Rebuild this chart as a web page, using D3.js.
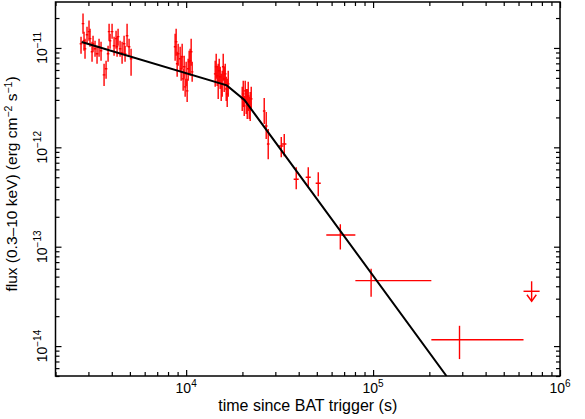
<!DOCTYPE html>
<html><head><meta charset="utf-8">
<script src="https://cdn.jsdelivr.net/npm/d3@7"></script>
<style>body{margin:0;background:#fff}svg{display:block}text{font-family:"Liberation Sans",Arial,Helvetica,sans-serif}</style>
</head><body><svg id="c" width="585" height="419"></svg>
<script>
// Windowed-timing style points: [time (s), half bin (s), flux, flux low, flux high]
const wtPoints = [
[2739,45,1.104e-11,8.74e-12,1.299e-11],
[2807,45,1.757e-11,1.392e-11,2.217e-11],
[2842,45,1.183e-11,9.37e-12,1.459e-11],
[2877,45,9.82e-12,7.78e-12,1.240e-11],
[2949,45,1.360e-11,1.104e-11,1.638e-11],
[3022,50,1.459e-11,1.183e-11,1.884e-11],
[3060,50,1.240e-11,1.029e-11,1.564e-11],
[3137,50,9.16e-12,7.26e-12,1.156e-11],
[3176,50,1.104e-11,9.16e-12,1.329e-11],
[3255,50,9.82e-12,8.15e-12,1.183e-11],
[3336,55,8.74e-12,6.93e-12,1.053e-11],
[3420,55,1.029e-11,8.15e-12,1.240e-11],
[3505,55,9.37e-12,7.43e-12,1.156e-11],
[3638,60,5.36e-12,4.15e-12,6.93e-12],
[3729,60,6.17e-12,4.89e-12,7.43e-12],
[3822,60,8.74e-12,7.26e-12,1.053e-11],
[3870,60,1.459e-11,1.183e-11,1.757e-11],
[3917,60,1.183e-11,9.82e-12,1.392e-11],
[4015,65,1.459e-11,1.240e-11,1.757e-11],
[4115,65,1.053e-11,8.35e-12,1.299e-11],
[4217,65,1.240e-11,9.82e-12,1.493e-11],
[4270,65,1.029e-11,8.15e-12,1.299e-11],
[4323,70,1.299e-11,1.053e-11,1.564e-11],
[4431,70,9.82e-12,8.15e-12,1.183e-11],
[4542,70,8.95e-12,6.93e-12,1.156e-11],
[4655,75,1.104e-11,8.74e-12,1.329e-11],
[4712,75,8.74e-12,7.26e-12,1.053e-11],
[4830,75,1.329e-11,1.029e-11,1.757e-11],
[4950,80,1.029e-11,8.35e-12,1.240e-11],
[5074,80,7.78e-12,5.24e-12,9.82e-12],
[8730,140,1.029e-11,7.43e-12,1.392e-11],
[8840,140,1.156e-11,8.35e-12,1.564e-11],
[8950,140,6.93e-12,5.12e-12,9.16e-12],
[9060,145,8.74e-12,6.61e-12,1.104e-11],
[9286,145,7.78e-12,5.75e-12,1.029e-11],
[9402,150,6.17e-12,4.67e-12,8.35e-12],
[9520,150,8.15e-12,6.17e-12,1.104e-11],
[9636,155,4.89e-12,3.70e-12,6.17e-12],
[9757,155,6.46e-12,4.89e-12,8.35e-12],
[9877,155,4.06e-12,3.22e-12,4.89e-12],
[10000,160,5.49e-12,4.15e-12,7.26e-12],
[10123,160,3.70e-12,2.86e-12,4.89e-12],
[10250,165,6.17e-12,4.67e-12,7.78e-12],
[10376,165,7.26e-12,5.49e-12,9.37e-12],
[10505,170,7.43e-12,5.24e-12,9.82e-12],
[10636,170,9.16e-12,6.61e-12,1.240e-11],
[10768,170,5.75e-12,4.56e-12,7.26e-12],
[14300,230,5.49e-12,4.06e-12,7.43e-12],
[14478,230,6.46e-12,4.89e-12,8.74e-12],
[14659,235,5.24e-12,4.15e-12,6.61e-12],
[14840,235,4.67e-12,3.07e-12,6.93e-12],
[15025,240,5.89e-12,4.35e-12,7.78e-12],
[15210,240,5.12e-12,3.87e-12,6.46e-12],
[15400,245,4.06e-12,2.93e-12,5.49e-12],
[15590,250,4.35e-12,3.22e-12,5.89e-12],
[15785,250,6.46e-12,4.67e-12,8.74e-12],
[15980,255,4.89e-12,3.61e-12,6.46e-12],
[16180,260,5.49e-12,4.15e-12,6.93e-12],
[16380,260,3.87e-12,2.93e-12,5.12e-12],
[16580,265,3.45e-12,2.55e-12,4.89e-12],
[16790,270,4.35e-12,3.22e-12,5.89e-12],
[19950,320,3.07e-12,2.32e-12,4.06e-12],
[20200,320,3.45e-12,2.55e-12,4.67e-12],
[20450,330,2.61e-12,2.07e-12,3.29e-12],
[20700,330,3.70e-12,2.86e-12,4.67e-12],
[20960,335,2.86e-12,2.17e-12,3.87e-12],
[21220,340,2.73e-12,1.93e-12,3.87e-12],
[21480,345,3.29e-12,2.32e-12,4.56e-12],
[21750,350,2.43e-12,1.93e-12,3.22e-12],
[22010,350,2.55e-12,1.84e-12,3.61e-12],
[22290,355,3.07e-12,2.32e-12,4.06e-12],
[26160,420,2.32e-12,1.72e-12,3.14e-12],
[26810,430,1.64e-12,1.21e-12,2.27e-12],
[27480,440,1.08e-12,7.60e-13,1.53e-12],
[32270,900,1.03e-12,7.96e-13,1.27e-12],
[33480,900,1.08e-12,8.15e-13,1.36e-12],
[38800,1200,4.78e-13,3.78e-13,6.31e-13],
[45000,1400,5.00e-13,3.96e-13,6.31e-13],
[50900,1600,4.35e-13,3.22e-13,5.62e-13]
];
// Photon-counting style points: [time, time low, time high, flux, flux low, flux high]
const pcPoints = [
[66800,56200,80400,1.31e-13,9.4e-14,1.68e-13],
[97600,80400,205000,4.56e-14,3.14e-14,6.0e-14],
[290000,205000,638000,1.16e-14,7.4e-15,1.60e-14]
];
// Upper limits: [time, time low, time high, flux limit]
const upperLimits = [
[705000,638000,778000,3.56e-14]
];
// Broken power-law model nodes
const modelTime = [2760, 16500, 20500, 247000];
const modelFlux = [1.15e-11, 4.2e-12, 3.0e-12, 5.0e-15];
// Axis ticks
const xMajor = [1e4, 1e5, 1e6];
const xMajorExp = ["4", "5", "6"];
const yMajor = [1e-11, 1e-12, 1e-13, 1e-14];
const yMajorExp = ["\u221211", "\u221212", "\u221213", "\u221214"];
const xLabel = "time since BAT trigger (s)";

const L = 55.5, R = 560, T = 2, B = 376;
const svg = d3.select("#c");
const x = d3.scaleLog().domain([2000, 1e6]).range([L, R]);
const y = d3.scaleLog().domain([5e-15, 2.9e-11]).range([B, T]);

function minorsOf(dom){
  const out=[];
  const lo=Math.floor(Math.log10(dom[0])), hi=Math.ceil(Math.log10(dom[1]));
  for(let e=lo;e<=hi;e++) for(let k=2;k<=9;k++){const v=k*Math.pow(10,e); if(v>=dom[0]*0.9999&&v<=dom[1]*1.0001) out.push(v);}
  return out;
}
const xMinor = minorsOf(x.domain());
const yMinor = minorsOf(y.domain());

svg.append("defs").append("clipPath").attr("id","pc").append("rect")
  .attr("x",L).attr("y",T).attr("width",R-L).attr("height",B-T);

function addAxis(gen, tx, ty, vals, size){
  const g = svg.append("g").attr("transform",`translate(${tx},${ty})`)
    .call(gen.tickValues(vals).tickSize(-size).tickFormat(""));
  g.select(".domain").remove();
  g.selectAll(".tick line").attr("stroke","#000").attr("stroke-width",1.2);
  g.selectAll(".tick text").remove();
}
[[xMajor,6],[xMinor,4]].forEach(([v,s])=>{
  addAxis(d3.axisBottom(x),0,B,v,s);
  addAxis(d3.axisTop(x),0,T,v,s);
});
[[yMajor,6],[yMinor,4]].forEach(([v,s])=>{
  addAxis(d3.axisLeft(y),L,0,v,s);
  addAxis(d3.axisRight(y),R,0,v,s);
});

// Data
const red = "#ff0000";
const dg = svg.append("g").attr("clip-path","url(#pc)").attr("stroke",red).attr("stroke-width",1.4).attr("fill","none");
wtPoints.forEach(p=>{
  const [t,dt,f,lo,hi]=p;
  dg.append("line").attr("x1",x(t)).attr("x2",x(t)).attr("y1",y(hi)).attr("y2",y(lo));
  dg.append("line").attr("x1",x(t-dt)).attr("x2",x(t+dt)).attr("y1",y(f)).attr("y2",y(f));
});
pcPoints.forEach(p=>{
  const [t,tl,th,f,lo,hi]=p;
  dg.append("line").attr("x1",x(t)).attr("x2",x(t)).attr("y1",y(hi)).attr("y2",y(lo));
  dg.append("line").attr("x1",x(tl)).attr("x2",x(th)).attr("y1",y(f)).attr("y2",y(f));
});
upperLimits.forEach(p=>{
  const [t,tl,th,f]=p;
  const cx=x(t), cy=y(f);
  dg.append("line").attr("x1",x(tl)).attr("x2",x(th)).attr("y1",cy).attr("y2",cy);
  dg.append("line").attr("x1",cx).attr("x2",cx).attr("y1",cy-10).attr("y2",cy+10);
  dg.append("path").attr("d",`M${cx-4.7},${cy+3.5}L${cx},${cy+10}L${cx+4.7},${cy+3.5}`);
});

// Model
const line = d3.line().x(d=>x(d[0])).y(d=>y(d[1]));
svg.append("path").attr("clip-path","url(#pc)")
  .attr("d", line(modelTime.map((t,i)=>[t,modelFlux[i]])))
  .attr("fill","none").attr("stroke","#000").attr("stroke-width",2);

// Frame
svg.append("rect").attr("x",L).attr("y",T).attr("width",R-L).attr("height",B-T)
  .attr("fill","none").attr("stroke","#000").attr("stroke-width",1.5);

// Tick labels
xMajor.forEach((v,i)=>{
  const t = svg.append("text").attr("x",x(v)).attr("y",393).attr("text-anchor","middle").attr("font-size",14);
  t.append("tspan").text("10");
  t.append("tspan").attr("font-size",10).attr("dy",-6).text(xMajorExp[i]);
});
yMajor.forEach((v,i)=>{
  const t = svg.append("text").attr("transform",`translate(46.5,${y(v)}) rotate(-90)`)
    .attr("text-anchor","middle").attr("font-size",14);
  t.append("tspan").text("10");
  t.append("tspan").attr("font-size",10).attr("dy",-6).text(yMajorExp[i]);
});

// Axis titles
svg.append("text").attr("x",(L+R)/2).attr("y",411).attr("text-anchor","middle").attr("font-size",16).text(xLabel);
const yt = svg.append("text").attr("transform",`translate(17,${(T+B)/2-5}) rotate(-90)`)
  .attr("text-anchor","middle").attr("font-size",15.5);
yt.append("tspan").text("flux (0.3\u201310 keV) (erg cm");
yt.append("tspan").attr("font-size",10.5).attr("dy",-5.5).text("\u22122");
yt.append("tspan").attr("dy",5.5).text(" s");
yt.append("tspan").attr("font-size",10.5).attr("dy",-5.5).text("\u22121");
yt.append("tspan").attr("dy",5.5).text(")");
</script>
</body></html>
